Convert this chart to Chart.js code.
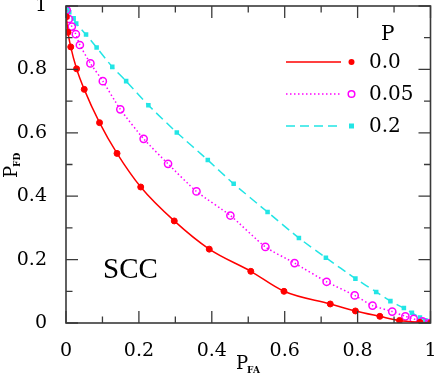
<!DOCTYPE html>
<html>
<head>
<meta charset="utf-8">
<script src="https://cdn.jsdelivr.net/npm/chart.js@4"></script>
<style>
html,body{margin:0;padding:0;background:#fff;}
#wrap{width:436px;height:376px;position:relative;}
</style>
</head>
<body>
<div id="wrap"><canvas id="c" width="436" height="376"></canvas></div>
<script>
// ---- data ----
const legendTitle = "P";
const seriesLabels = ["0.0", "0.05", "0.2"];
const annotation = "SCC";
const xTicks = [0, 0.2, 0.4, 0.6, 0.8, 1];
const yTicks = [0, 0.2, 0.4, 0.6, 0.8, 1];

const pfaP00 = [0.001, 0.0055, 0.013, 0.029, 0.05, 0.092, 0.14, 0.205, 0.297, 0.393, 0.507, 0.598, 0.725, 0.794, 0.861, 0.915, 0.971, 1.0];
const pfdP00 = [0.966, 0.917, 0.871, 0.802, 0.737, 0.632, 0.535, 0.429, 0.322, 0.233, 0.163, 0.10, 0.06, 0.038, 0.021, 0.008, 0.002, 0.0];

const pfaP005 = [0.002, 0.008, 0.016, 0.027, 0.038, 0.067, 0.101, 0.149, 0.213, 0.280, 0.358, 0.451, 0.547, 0.627, 0.715, 0.792, 0.841, 0.895, 0.931, 0.954, 0.978, 0.997];
const pfdP005 = [0.987, 0.959, 0.935, 0.911, 0.877, 0.819, 0.763, 0.674, 0.581, 0.502, 0.415, 0.339, 0.240, 0.189, 0.130, 0.087, 0.055, 0.036, 0.021, 0.013, 0.005, 0.0];

const pfaP02 = [0.0, 0.004, 0.009, 0.021, 0.028, 0.055, 0.084, 0.127, 0.165, 0.226, 0.304, 0.389, 0.460, 0.553, 0.639, 0.713, 0.794, 0.851, 0.890, 0.927, 0.949, 0.971, 0.986, 0.996];
const pfdP02 = [0.998, 0.993, 0.980, 0.961, 0.945, 0.910, 0.869, 0.808, 0.763, 0.687, 0.601, 0.514, 0.439, 0.350, 0.268, 0.206, 0.140, 0.098, 0.069, 0.047, 0.032, 0.017, 0.009, 0.002];

const toPts = (xs, ys) => xs.map((x, i) => ({x: x, y: ys[i]}));

const AXIS = '#3a3a3a';

const datasets = [
  {
    label: seriesLabels[0], data: toPts(pfaP00, pfdP00),
    borderColor: '#ff0000', backgroundColor: '#ff0000', borderWidth: 1.5,
    pointStyle: 'circle', pointRadius: 3, pointBorderWidth: 1, pointBackgroundColor: '#ff0000',
    showLine: true, tension: 0.4, cubicInterpolationMode: 'monotone'
  },
  {
    label: seriesLabels[1], data: toPts(pfaP005, pfdP005),
    borderColor: '#ff00ff', backgroundColor: '#ffffff', borderWidth: 1.5, borderDash: [1.5, 2.5],
    pointStyle: 'circle', pointRadius: 3.6, pointBorderWidth: 1.5, pointBackgroundColor: 'rgba(0,0,0,0)',
    pointBorderColor: '#ff00ff',
    showLine: true, tension: 0.2
  },
  {
    label: seriesLabels[2], data: toPts(pfaP02, pfdP02),
    borderColor: '#22e5e5', backgroundColor: '#22e5e5', borderWidth: 1.5, borderDash: [9, 5],
    pointStyle: 'rect', pointRadius: 3.2, pointBorderWidth: 0, pointBackgroundColor: '#22e5e5',
    showLine: true, tension: 0.2
  }
];

function fmt(v) {
  if (Math.abs(v) < 1e-9) return '0';
  if (Math.abs(v - 1) < 1e-9) return '1';
  return v.toFixed(1);
}

const framePlugin = {
  id: 'frame',
  afterDraw(chart) {
    const ctx = chart.ctx;
    const a = chart.chartArea;
    const xs = chart.scales.x, ys = chart.scales.y;
    ctx.save();
    ctx.strokeStyle = AXIS;
    ctx.lineWidth = 1.6;
    ctx.strokeRect(a.left, a.top, a.right - a.left, a.bottom - a.top);
    ctx.lineWidth = 1.3;
    for (let i = 0; i <= 10; i++) {
      const v = i / 10;
      const len = (i % 2 === 0) ? 12 : 6.5;
      const px = xs.getPixelForValue(v);
      const py = ys.getPixelForValue(v);
      ctx.beginPath();
      ctx.moveTo(px, a.bottom); ctx.lineTo(px, a.bottom - len);
      ctx.moveTo(px, a.top); ctx.lineTo(px, a.top + len);
      ctx.moveTo(a.left, py); ctx.lineTo(a.left + len, py);
      ctx.moveTo(a.right, py); ctx.lineTo(a.right - len, py);
      ctx.stroke();
    }
    // axis titles with subscripts
    ctx.fillStyle = '#000';
    ctx.textBaseline = 'alphabetic';
    ctx.textAlign = 'left';
    ctx.font = '18px "DejaVu Serif"';
    const xp = 236, yb = 369;
    ctx.fillText('P', xp, yb);
    const pw = ctx.measureText('P').width;
    ctx.font = 'bold 9px "DejaVu Serif"';
    ctx.fillText('FA', xp + pw - 1, yb + 4);
    // y title rotated
    ctx.save();
    ctx.translate(17, 178);
    ctx.rotate(-Math.PI / 2);
    ctx.font = '18px "DejaVu Serif"';
    ctx.fillText('P', 0, 0);
    const pw2 = ctx.measureText('P').width;
    ctx.font = 'bold 9px "DejaVu Serif"';
    ctx.fillText('FD', pw2 - 1, 3);
    ctx.restore();
    // annotation
    ctx.font = '29px "Liberation Serif"';
    ctx.textBaseline = 'alphabetic';
    ctx.fillText(annotation, 103, 278);
    // legend
    ctx.font = '20px "DejaVu Serif"';
    ctx.textBaseline = 'middle';
    ctx.fillText(legendTitle, 381, 35);
    const rows = [62, 94, 126];
    chart.data.datasets.forEach((ds, i) => {
      const y = rows[i];
      ctx.save();
      ctx.strokeStyle = ds.borderColor;
      ctx.lineWidth = ds.borderWidth;
      ctx.setLineDash(ds.borderDash || []);
      ctx.beginPath(); ctx.moveTo(286, y); ctx.lineTo(341, y); ctx.stroke();
      ctx.setLineDash([]);
      ctx.restore();
      ctx.save();
      if (ds.pointStyle === 'rect') {
        ctx.fillStyle = ds.pointBackgroundColor;
        ctx.fillRect(349, y - 2.5, 5, 5);
      } else if (i === 1) {
        ctx.strokeStyle = ds.pointBorderColor; ctx.lineWidth = 1.5;
        ctx.beginPath(); ctx.arc(351.5, y, 3.3, 0, Math.PI * 2); ctx.stroke();
      } else {
        ctx.fillStyle = ds.pointBackgroundColor;
        ctx.beginPath(); ctx.arc(351.5, y, 3, 0, Math.PI * 2); ctx.fill();
      }
      ctx.restore();
      ctx.fillStyle = '#000';
      ctx.font = '20px "DejaVu Serif"';
      ctx.fillText(ds.label, 369, y + 1);
    });
    ctx.restore();
  }
};

new Chart(document.getElementById('c'), {
  type: 'scatter',
  data: { datasets: datasets },
  options: {
    responsive: false,
    animation: false,
    devicePixelRatio: 1,
    layout: { padding: { top: 6, right: 4, left: 0, bottom: 0 } },
    plugins: { legend: { display: false }, tooltip: { enabled: false } },
    scales: {
      x: {
        type: 'linear', min: 0, max: 1,
        grid: { display: false }, border: { display: false },
        afterBuildTicks: (s) => { s.ticks = xTicks.map(v => ({value: v})); },
        afterFit: (s) => { s.height = 53; s.paddingLeft = 0; s.paddingRight = 0; },
        ticks: { color: '#000', font: { family: 'DejaVu Serif', size: 19 }, padding: 9, maxRotation: 0, autoSkip: false, callback: (v) => fmt(v) }
      },
      y: {
        type: 'linear', min: 0, max: 1,
        grid: { display: false }, border: { display: false },
        afterBuildTicks: (s) => { s.ticks = yTicks.map(v => ({value: v})); },
        afterFit: (s) => { s.width = 66; s.paddingTop = 0; s.paddingBottom = 0; },
        ticks: { color: '#000', font: { family: 'DejaVu Serif', size: 19 }, padding: 11, autoSkip: false, callback: (v) => fmt(v) }
      }
    }
  },
  plugins: [framePlugin]
});
</script>
</body>
</html>
